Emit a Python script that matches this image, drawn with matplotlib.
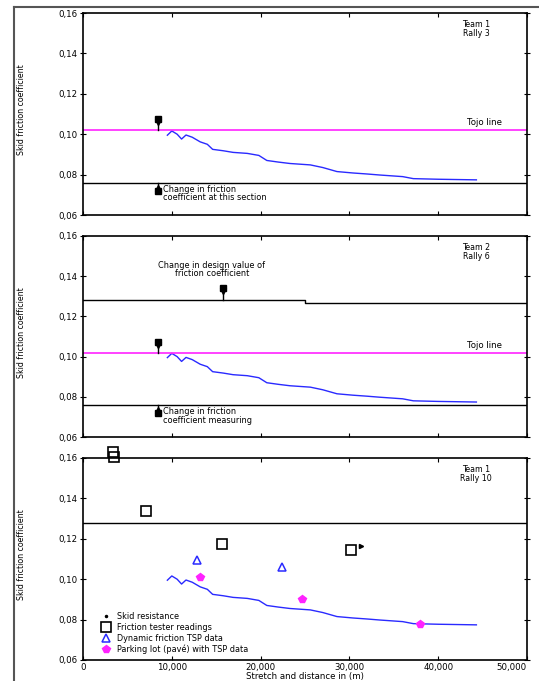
import matplotlib
matplotlib.use("Agg")
import matplotlib.pyplot as plt
from matplotlib.lines import Line2D

# ---------------- data ----------------
x_ticks = [0, 10000, 20000, 30000, 40000, 50000]
x_tick_labels = ["0", "10,000", "20,000", "30,000", "40,000", "50,000"]
y_ticks = [0.06, 0.08, 0.10, 0.12, 0.14, 0.16]
y_tick_labels = ["0,06", "0,08", "0,10", "0,12", "0,14", "0,16"]

# measured friction curve (blue)
curve_x = [9500, 10000, 10600, 11100, 11600, 12300, 13200, 14000, 14600, 15800,
           16900, 18500, 19800, 20700, 22000, 23300, 25600, 27000, 28600, 30400,
           32000, 33400, 36000, 37200, 40000, 44300]
curve_y = [0.0995, 0.1016, 0.1000, 0.0976, 0.0996, 0.0985, 0.0962, 0.0950, 0.0925, 0.0918,
           0.0910, 0.0905, 0.0895, 0.0870, 0.0862, 0.0855, 0.0848, 0.0835, 0.0815, 0.0808,
           0.0803, 0.0798, 0.0790, 0.0780, 0.0777, 0.0774]

tojo_level = 0.102
lower_level = 0.076
upper_level_x = [0, 25000, 25000, 50000]
upper_level_y = [0.1280, 0.1280, 0.1268, 0.1268]
panel3_level = 0.1278

skid_x = [31300]
skid_y = [0.1165]
sq_x = [3400, 3450, 7100, 15700, 30200]
sq_y = [0.1630, 0.1605, 0.1338, 0.1174, 0.1145]
tri_x = [12800, 22400]
tri_y = [0.1095, 0.1060]
pk_x = [13200, 24700, 38000]
pk_y = [0.1010, 0.0900, 0.0780]

legend_labels = ["Skid resistance", "Friction tester readings",
                 "Dynamic friction TSP data", "Parking lot (pavé) with TSP data"]
panel_tags = ["Team 1\nRally 3", "Team 2\nRally 6", "Team 1\nRally 10"]

# ---------------- figure ----------------
fig = plt.figure(figsize=(5.39, 6.81), dpi=100)
plt.rcParams['font.family'] = ['DejaVu Sans']
FS = 6.2
blue = '#2a2aff'
mag = '#ff22ff'

left, width = 83 / 539, 444 / 539
rects = [(1 - 215 / 681, 202 / 681), (1 - 437 / 681, 201 / 681), (1 - 660 / 681, 202 / 681)]
axes = []
for i, (b, h) in enumerate(rects):
    ax = fig.add_axes([left, b, width, h])
    ax.set_xlim(0, 50000)
    ax.set_ylim(0.06, 0.16)
    ax.set_yticks(y_ticks)
    ax.set_yticklabels(y_tick_labels, fontsize=FS)
    ax.set_xticks(x_ticks)
    if i == 2:
        ax.set_xticklabels(x_tick_labels, fontsize=FS)
        ax.get_xticklabels()[-1].set_horizontalalignment('right')
    else:
        ax.set_xticklabels([])
    ax.tick_params(axis='both', which='both', length=3, width=0.8,
                   top=True, right=True, direction='in', pad=2)
    ax.tick_params(axis='y', which='both', left=True, direction='inout', length=4)
    for s in ax.spines.values():
        s.set_linewidth(1.2)
    ax.plot(curve_x, curve_y, color=blue, lw=1.0)
    ax.text(0.885, 0.92, panel_tags[i], transform=ax.transAxes, ha='center',
            va='center', fontsize=FS - 0.5, linespacing=1.0)
    axes.append(ax)

# panel 1
ax1 = axes[0]
ax1.axhline(tojo_level, color=mag, lw=1.2)
ax1.axhline(lower_level, color='k', lw=1.0)
ax1.text(47200, tojo_level + 0.0015, "Tojo line", ha='right', va='bottom', fontsize=FS)
ax1.plot([8450, 8450], [tojo_level, 0.108], color='k', lw=1.0)
ax1.plot([8450], [0.1075], marker='s', color='k', ms=4)
ax1.plot([8450], [0.1060], marker='v', color='k', ms=4)
ax1.plot([8450, 8450], [lower_level, 0.0715], color='k', lw=1.0)
ax1.plot([8450], [0.0718], marker='s', color='k', ms=4)
ax1.plot([8450], [0.0735], marker='^', color='k', ms=4)
ax1.text(9000, 0.0705, "Change in friction\ncoefficient at this section", ha='left',
         va='center', fontsize=FS - 0.3, linespacing=0.9)

# panel 2
ax2 = axes[1]
ax2.axhline(tojo_level, color=mag, lw=1.2)
ax2.axhline(lower_level, color='k', lw=1.0)
ax2.plot(upper_level_x, upper_level_y, color='k', lw=1.0)
ax2.text(47200, tojo_level + 0.0015, "Tojo line", ha='right', va='bottom', fontsize=FS)
ax2.text(14500, 0.1435, "Change in design value of\nfriction coefficient", ha='center',
         va='center', fontsize=FS - 0.3, linespacing=0.9)
ax2.plot([15800, 15800], [0.128, 0.1345], color='k', lw=1.0)
ax2.plot([15800], [0.1340], marker='s', color='k', ms=4)
ax2.plot([15800], [0.1325], marker='v', color='k', ms=4)
ax2.plot([8450, 8450], [tojo_level, 0.108], color='k', lw=1.0)
ax2.plot([8450], [0.1075], marker='s', color='k', ms=4)
ax2.plot([8450], [0.1060], marker='v', color='k', ms=4)
ax2.plot([8450, 8450], [lower_level, 0.0715], color='k', lw=1.0)
ax2.plot([8450], [0.0718], marker='s', color='k', ms=4)
ax2.plot([8450], [0.0735], marker='^', color='k', ms=4)
ax2.text(9000, 0.0705, "Change in friction\ncoefficient measuring", ha='left',
         va='center', fontsize=FS - 0.3, linespacing=0.9)

# panel 3
ax3 = axes[2]
ax3.axhline(panel3_level, color='k', lw=1.0)
h1, = ax3.plot(skid_x, skid_y, ls='none', marker='>', color='k', ms=3)
h2, = ax3.plot(sq_x, sq_y, ls='none', marker='s', mfc='none', mec='k', mew=1.2, ms=7,
               clip_on=False)
h3, = ax3.plot(tri_x, tri_y, ls='none', marker='^', mfc='none', mec=blue, mew=1.1, ms=6)
h4, = ax3.plot(pk_x, pk_y, ls='none', marker='p', color=mag, ms=6)
lh1 = Line2D([], [], ls='none', marker='.', color='k', ms=3)
ax3.legend([lh1, h2, h3, h4], legend_labels, loc='lower left',
           bbox_to_anchor=(0.03, 0.0), frameon=False, fontsize=FS - 0.3,
           handlelength=1.0, handletextpad=0.8, labelspacing=0.25, borderaxespad=0.3)
ax3.set_xlabel("Stretch and distance in (m)", fontsize=FS, labelpad=0)

# y labels
for (b, h) in rects:
    fig.text(22 / 539, b + h * 0.52, "Skid friction coefficient", rotation=90,
             ha='center', va='center', fontsize=FS - 0.5)

# outer frame
fig.add_artist(Line2D([14 / 539, 14 / 539], [0, 1 - 7 / 681], color='#555555', lw=1.5,
                      transform=fig.transFigure))
fig.add_artist(Line2D([14 / 539, 1], [1 - 7 / 681, 1 - 7 / 681], color='#555555', lw=1.5,
                      transform=fig.transFigure))

fig.savefig("out.png", dpi=100)
